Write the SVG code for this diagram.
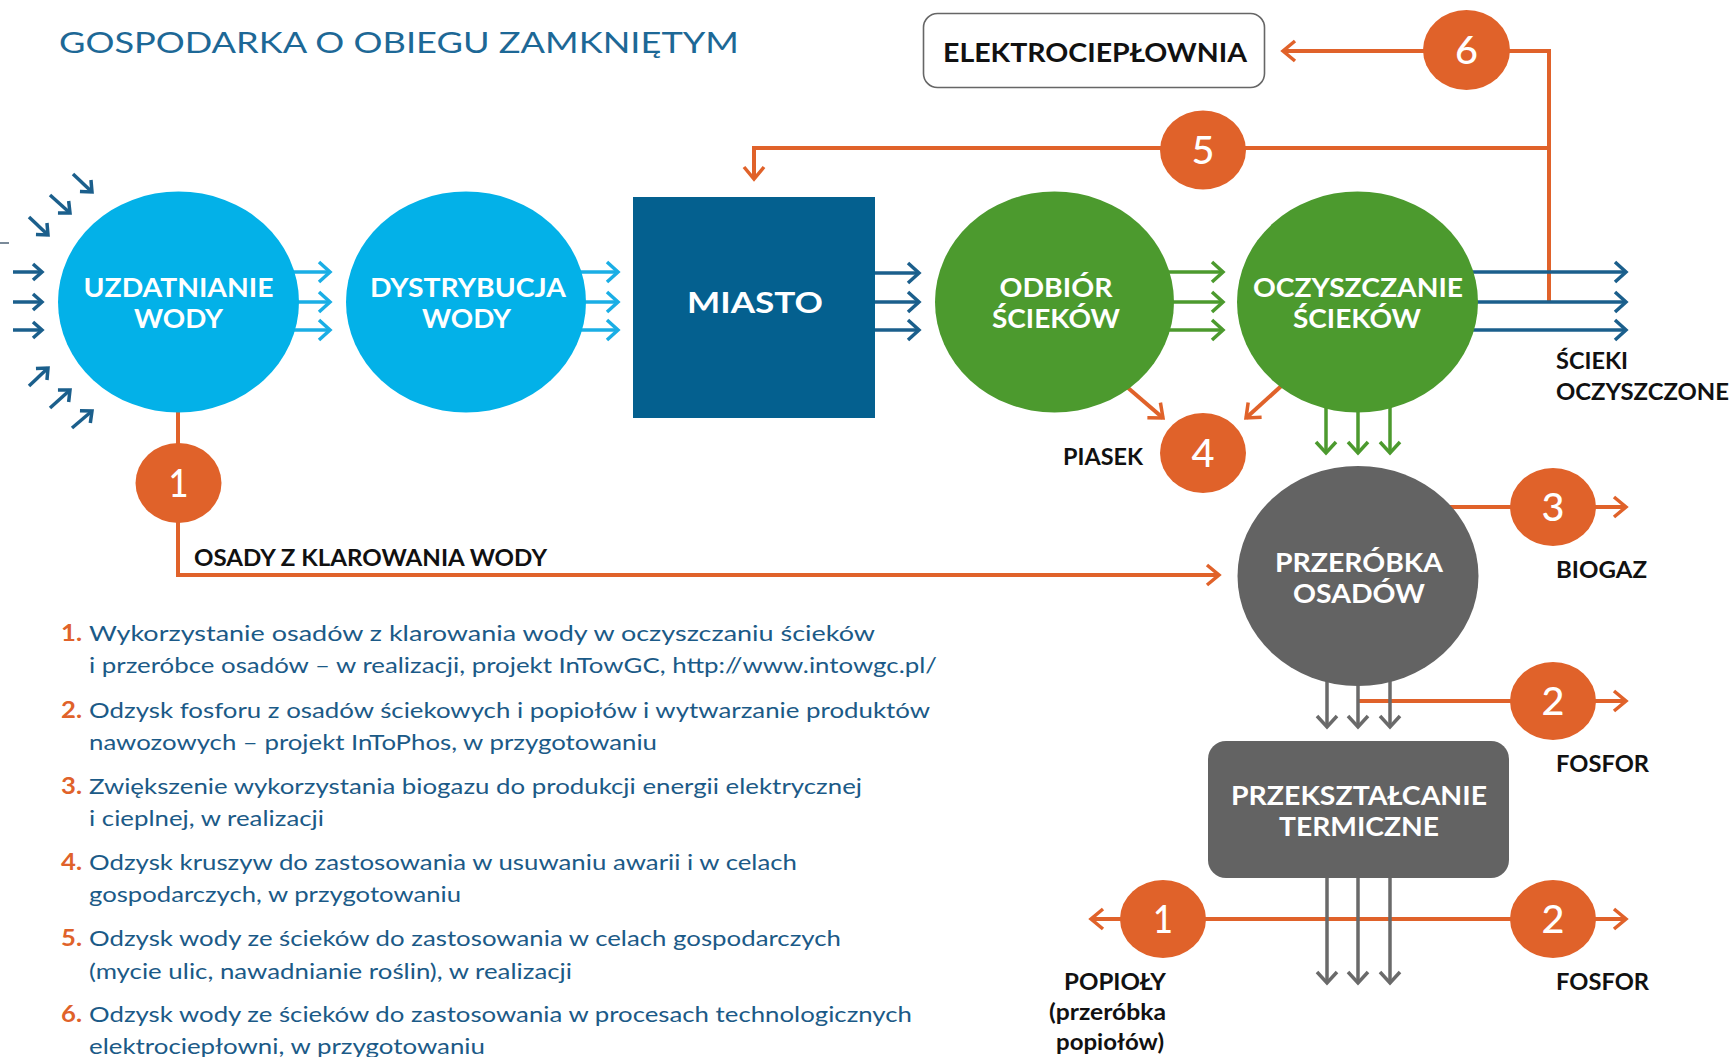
<svg xmlns="http://www.w3.org/2000/svg" width="1732" height="1057" viewBox="0 0 1732 1057">
<style>
.bg{fill:#ffffff}
.title{font-family:Lato,"Liberation Sans",sans-serif;font-size:29px;fill:#1d6896}
.nl{font-family:Lato,"Liberation Sans",sans-serif;font-weight:bold;font-size:27px;fill:#ffffff;text-anchor:middle}
.lbl{font-family:Lato,"Liberation Sans",sans-serif;font-weight:bold;font-size:23px;fill:#111111}
.num{font-family:Lato,"Liberation Sans",sans-serif;font-weight:500;font-size:39px;fill:#ffffff;text-anchor:middle}
.lg{font-family:Lato,"Liberation Sans",sans-serif;font-size:22px;fill:#1b5a87}
.lgn{font-family:Lato,"Liberation Sans",sans-serif;font-weight:bold;font-size:22px;fill:#e0622a}
.lb{fill:#03b1e8}
.gr{fill:#4c9a2e}
.gy{fill:#636363}
.or{fill:#e0622a}
.c-lb{fill:none;stroke:#1aaee5;stroke-width:3.5}
.c-db{fill:none;stroke:#1b5f8c;stroke-width:3.5}
.c-gr{fill:none;stroke:#4c9a2e;stroke-width:3.5}
.c-gy{fill:none;stroke:#6a6a6a;stroke-width:3.5}
.c-or{fill:none;stroke:#e0622a;stroke-width:4}
</style>
<defs>
<marker id="m-lb" markerUnits="userSpaceOnUse" viewBox="-16 -13 20 26" markerWidth="20" markerHeight="26" refX="0" refY="0" orient="auto" overflow="visible"><path d="M-11,-10 L0,0 L-11,10" fill="none" stroke="#1aaee5" stroke-width="3.5"/></marker>
<marker id="m-db" markerUnits="userSpaceOnUse" viewBox="-16 -13 20 26" markerWidth="20" markerHeight="26" refX="0" refY="0" orient="auto" overflow="visible"><path d="M-11,-10 L0,0 L-11,10" fill="none" stroke="#1b5f8c" stroke-width="3.5"/></marker>
<marker id="m-dbs" markerUnits="userSpaceOnUse" viewBox="-16 -13 20 26" markerWidth="20" markerHeight="26" refX="0" refY="0" orient="auto" overflow="visible"><path d="M-9,-8 L0,0 L-9,8" fill="none" stroke="#1b5f8c" stroke-width="3.5"/></marker>
<marker id="m-gr" markerUnits="userSpaceOnUse" viewBox="-16 -13 20 26" markerWidth="20" markerHeight="26" refX="0" refY="0" orient="auto" overflow="visible"><path d="M-11,-10 L0,0 L-11,10" fill="none" stroke="#4c9a2e" stroke-width="3.5"/></marker>
<marker id="m-gy" markerUnits="userSpaceOnUse" viewBox="-16 -13 20 26" markerWidth="20" markerHeight="26" refX="0" refY="0" orient="auto" overflow="visible"><path d="M-11,-10 L0,0 L-11,10" fill="none" stroke="#6a6a6a" stroke-width="3.5"/></marker>
<marker id="m-or" markerUnits="userSpaceOnUse" viewBox="-16 -13 20 26" markerWidth="20" markerHeight="26" refX="0" refY="0" orient="auto" overflow="visible"><path d="M-12,-10 L0,0 L-12,10" fill="none" stroke="#e0622a" stroke-width="3.5"/></marker>
</defs>
<rect class="bg" x="0" y="0" width="1732" height="1057"/>
<text class="title" x="59" y="53" textLength="680" lengthAdjust="spacingAndGlyphs">GOSPODARKA O OBIEGU ZAMKNIĘTYM</text>

<g id="connectors">
  <line x1="0" y1="243" x2="9" y2="243" stroke="#7a8a99" stroke-width="2"/>
  <!-- incoming to UZDATNIANIE -->
  <path class="c-db" marker-end="url(#m-dbs)" d="M13,272 H42"/>
  <path class="c-db" marker-end="url(#m-dbs)" d="M13,302 H42"/>
  <path class="c-db" marker-end="url(#m-dbs)" d="M13,330 H42"/>
  <path class="c-db" marker-end="url(#m-dbs)" d="M29,217 L48,235"/>
  <path class="c-db" marker-end="url(#m-dbs)" d="M50,195 L70,213"/>
  <path class="c-db" marker-end="url(#m-dbs)" d="M73,174 L92,192"/>
  <path class="c-db" marker-end="url(#m-dbs)" d="M29,386 L48,368"/>
  <path class="c-db" marker-end="url(#m-dbs)" d="M50,408 L70,390"/>
  <path class="c-db" marker-end="url(#m-dbs)" d="M72,428 L92,411"/>
  <!-- light blue -->
  <path class="c-lb" marker-end="url(#m-lb)" d="M285,272 H330"/>
  <path class="c-lb" marker-end="url(#m-lb)" d="M290,302 H330"/>
  <path class="c-lb" marker-end="url(#m-lb)" d="M285,330 H330"/>
  <path class="c-lb" marker-end="url(#m-lb)" d="M572,272 H618"/>
  <path class="c-lb" marker-end="url(#m-lb)" d="M578,302 H618"/>
  <path class="c-lb" marker-end="url(#m-lb)" d="M572,330 H618"/>
  <!-- MIASTO out -->
  <path class="c-db" marker-end="url(#m-db)" d="M875,273 H919"/>
  <path class="c-db" marker-end="url(#m-db)" d="M875,302 H919"/>
  <path class="c-db" marker-end="url(#m-db)" d="M875,330 H919"/>
  <!-- ODBIOR out -->
  <path class="c-gr" marker-end="url(#m-gr)" d="M1160,272 H1223"/>
  <path class="c-gr" marker-end="url(#m-gr)" d="M1165,302 H1223"/>
  <path class="c-gr" marker-end="url(#m-gr)" d="M1160,330 H1223"/>
  <!-- orange loops 5 and 6 -->
  <path class="c-or" marker-end="url(#m-or)" d="M1549,302 V51 H1283"/>
  <path class="c-or" marker-end="url(#m-or)" d="M1549,148 H754 V179"/>
  <!-- OCZYSZCZANIE out -->
  <path class="c-db" marker-end="url(#m-db)" d="M1465,272 H1626"/>
  <path class="c-db" marker-end="url(#m-db)" d="M1470,302 H1626"/>
  <path class="c-db" marker-end="url(#m-db)" d="M1465,330 H1626"/>
  <!-- sand -->
  <path class="c-or" marker-end="url(#m-or)" d="M1120,381 L1163,418"/>
  <path class="c-or" marker-end="url(#m-or)" d="M1289,379 L1246,418"/>
  <!-- sludge down -->
  <path class="c-gr" marker-end="url(#m-gr)" d="M1326,395 V453"/>
  <path class="c-gr" marker-end="url(#m-gr)" d="M1358,400 V453"/>
  <path class="c-gr" marker-end="url(#m-gr)" d="M1390,395 V453"/>
  <!-- water clarification sludge -->
  <path class="c-or" marker-end="url(#m-or)" d="M178,400 V575 H1219"/>
  <!-- biogas -->
  <path class="c-or" marker-end="url(#m-or)" d="M1440,507 H1626"/>
  <!-- phosphorus upper -->
  <path class="c-or" marker-end="url(#m-or)" d="M1358,701 H1626"/>
  <path class="c-gy" marker-end="url(#m-gy)" d="M1327,675 V727"/>
  <path class="c-gy" marker-end="url(#m-gy)" d="M1358,680 V727"/>
  <path class="c-gy" marker-end="url(#m-gy)" d="M1390,675 V727"/>
  <!-- lower -->
  <path class="c-or" marker-end="url(#m-or)" d="M1358,919 H1091"/>
  <path class="c-or" marker-end="url(#m-or)" d="M1358,919 H1626"/>
  <path class="c-gy" marker-end="url(#m-gy)" d="M1327,878 V983"/>
  <path class="c-gy" marker-end="url(#m-gy)" d="M1358,878 V983"/>
  <path class="c-gy" marker-end="url(#m-gy)" d="M1390,878 V983"/>
</g>

<g id="n-uzdatnianie">
  <ellipse class="lb" cx="178.5" cy="302" rx="120.5" ry="110.5"/>
  <text class="nl" x="178.5" y="297" textLength="190" lengthAdjust="spacingAndGlyphs">UZDATNIANIE</text>
  <text class="nl" x="178.5" y="328" textLength="89" lengthAdjust="spacingAndGlyphs">WODY</text>
</g>
<g id="n-dystrybucja">
  <ellipse class="lb" cx="466" cy="302" rx="120" ry="110.5"/>
  <text class="nl" x="468" y="297" textLength="196" lengthAdjust="spacingAndGlyphs">DYSTRYBUCJA</text>
  <text class="nl" x="466.5" y="328" textLength="89" lengthAdjust="spacingAndGlyphs">WODY</text>
</g>
<g id="n-miasto">
  <rect x="633" y="197" width="242" height="221" fill="#04608f"/>
  <text class="nl" x="755" y="313" style="font-size:28px" textLength="136" lengthAdjust="spacingAndGlyphs">MIASTO</text>
</g>
<g id="n-odbior">
  <ellipse class="gr" cx="1054.5" cy="302" rx="119.5" ry="110.5"/>
  <text class="nl" x="1056" y="297" textLength="113" lengthAdjust="spacingAndGlyphs">ODBIÓR</text>
  <text class="nl" x="1056" y="328" textLength="128" lengthAdjust="spacingAndGlyphs">ŚCIEKÓW</text>
</g>
<g id="n-oczyszczanie">
  <ellipse class="gr" cx="1357.5" cy="302" rx="120.5" ry="110.5"/>
  <text class="nl" x="1358" y="297" textLength="210" lengthAdjust="spacingAndGlyphs">OCZYSZCZANIE</text>
  <text class="nl" x="1357" y="328" textLength="128" lengthAdjust="spacingAndGlyphs">ŚCIEKÓW</text>
</g>
<g id="n-przerobka">
  <ellipse class="gy" cx="1358" cy="576" rx="120.5" ry="110"/>
  <text class="nl" x="1359" y="572" textLength="168" lengthAdjust="spacingAndGlyphs">PRZERÓBKA</text>
  <text class="nl" x="1359" y="603" textLength="132" lengthAdjust="spacingAndGlyphs">OSADÓW</text>
</g>
<g id="n-przeksztalcanie">
  <rect class="gy" x="1208" y="741" width="301" height="137" rx="18"/>
  <text class="nl" x="1359" y="805" textLength="256" lengthAdjust="spacingAndGlyphs">PRZEKSZTAŁCANIE</text>
  <text class="nl" x="1359" y="836" textLength="160" lengthAdjust="spacingAndGlyphs">TERMICZNE</text>
</g>
<g id="n-elektrocieplownia">
  <rect x="923.5" y="13.5" width="341" height="74" rx="14" fill="#ffffff" stroke="#666666" stroke-width="1.6"/>
  <text class="lbl" x="1095" y="62" style="font-size:26px;text-anchor:middle" textLength="304" lengthAdjust="spacingAndGlyphs">ELEKTROCIEPŁOWNIA</text>
</g>

<g id="n-num6"><ellipse class="or" cx="1466.5" cy="50" rx="43.5" ry="40"/><text class="num" x="1466.5" y="64" textLength="23" lengthAdjust="spacingAndGlyphs">6</text></g>
<g id="n-num5"><ellipse class="or" cx="1203" cy="150" rx="43" ry="39.5"/><text class="num" x="1203" y="164" textLength="23" lengthAdjust="spacingAndGlyphs">5</text></g>
<g id="n-num4"><ellipse class="or" cx="1203" cy="453" rx="43" ry="40"/><text class="num" x="1203" y="467" textLength="23" lengthAdjust="spacingAndGlyphs">4</text></g>
<g id="n-num3"><ellipse class="or" cx="1553" cy="507" rx="43" ry="39"/><text class="num" x="1553" y="521" textLength="23" lengthAdjust="spacingAndGlyphs">3</text></g>
<g id="n-num2a"><ellipse class="or" cx="1553" cy="701" rx="43" ry="39"/><text class="num" x="1553" y="715" textLength="23" lengthAdjust="spacingAndGlyphs">2</text></g>
<g id="n-num1a"><ellipse class="or" cx="178.5" cy="483" rx="43" ry="40"/><text class="num" x="178.5" y="497" textLength="20" lengthAdjust="spacingAndGlyphs">1</text></g>
<g id="n-num1b"><ellipse class="or" cx="1163" cy="919" rx="43" ry="39"/><text class="num" x="1163" y="933" textLength="20" lengthAdjust="spacingAndGlyphs">1</text></g>
<g id="n-num2b"><ellipse class="or" cx="1553" cy="919" rx="43" ry="39"/><text class="num" x="1553" y="933" textLength="23" lengthAdjust="spacingAndGlyphs">2</text></g>

<g id="labels">
  <text class="lbl" x="1556" y="369" textLength="72" lengthAdjust="spacingAndGlyphs">ŚCIEKI</text>
  <text class="lbl" x="1556" y="400" textLength="173" lengthAdjust="spacingAndGlyphs">OCZYSZCZONE</text>
  <text class="lbl" x="1063" y="465" textLength="80" lengthAdjust="spacingAndGlyphs">PIASEK</text>
  <text class="lbl" x="1556" y="578" textLength="91" lengthAdjust="spacingAndGlyphs">BIOGAZ</text>
  <text class="lbl" x="1556" y="772" textLength="93" lengthAdjust="spacingAndGlyphs">FOSFOR</text>
  <text class="lbl" x="1556" y="990" textLength="93" lengthAdjust="spacingAndGlyphs">FOSFOR</text>
  <text class="lbl" x="1064" y="990" textLength="102" lengthAdjust="spacingAndGlyphs">POPIOŁY</text>
  <text class="lbl" x="1049" y="1020" textLength="117" lengthAdjust="spacingAndGlyphs">(przeróbka</text>
  <text class="lbl" x="1056" y="1050" textLength="108" lengthAdjust="spacingAndGlyphs">popiołów)</text>
  <text class="lbl" x="194" y="566" textLength="353" lengthAdjust="spacingAndGlyphs">OSADY Z KLAROWANIA WODY</text>
</g>

<g id="legend">
  <text class="lgn" x="61" y="641" textLength="21" lengthAdjust="spacingAndGlyphs">1.</text>
  <text class="lg" x="89" y="641" textLength="786" lengthAdjust="spacingAndGlyphs">Wykorzystanie osadów z klarowania wody w oczyszczaniu ścieków</text>
  <text class="lg" x="89" y="673" textLength="848" lengthAdjust="spacingAndGlyphs">i przeróbce osadów – w realizacji, projekt InTowGC, http://www.intowgc.pl/</text>
  <text class="lgn" x="61" y="718" textLength="21" lengthAdjust="spacingAndGlyphs">2.</text>
  <text class="lg" x="89" y="718" textLength="841" lengthAdjust="spacingAndGlyphs">Odzysk fosforu z osadów ściekowych i popiołów i wytwarzanie produktów</text>
  <text class="lg" x="89" y="750" textLength="568" lengthAdjust="spacingAndGlyphs">nawozowych – projekt InToPhos, w przygotowaniu</text>
  <text class="lgn" x="61" y="794" textLength="21" lengthAdjust="spacingAndGlyphs">3.</text>
  <text class="lg" x="89" y="794" textLength="773" lengthAdjust="spacingAndGlyphs">Zwiększenie wykorzystania biogazu do produkcji energii elektrycznej</text>
  <text class="lg" x="89" y="826" textLength="235" lengthAdjust="spacingAndGlyphs">i cieplnej, w realizacji</text>
  <text class="lgn" x="61" y="870" textLength="21" lengthAdjust="spacingAndGlyphs">4.</text>
  <text class="lg" x="89" y="870" textLength="708" lengthAdjust="spacingAndGlyphs">Odzysk kruszyw do zastosowania w usuwaniu awarii i w celach</text>
  <text class="lg" x="89" y="902" textLength="372" lengthAdjust="spacingAndGlyphs">gospodarczych, w przygotowaniu</text>
  <text class="lgn" x="61" y="946" textLength="21" lengthAdjust="spacingAndGlyphs">5.</text>
  <text class="lg" x="89" y="946" textLength="752" lengthAdjust="spacingAndGlyphs">Odzysk wody ze ścieków do zastosowania w celach gospodarczych</text>
  <text class="lg" x="89" y="979" textLength="483" lengthAdjust="spacingAndGlyphs">(mycie ulic, nawadnianie roślin), w realizacji</text>
  <text class="lgn" x="61" y="1022" textLength="21" lengthAdjust="spacingAndGlyphs">6.</text>
  <text class="lg" x="89" y="1022" textLength="823" lengthAdjust="spacingAndGlyphs">Odzysk wody ze ścieków do zastosowania w procesach technologicznych</text>
  <text class="lg" x="89" y="1054" textLength="396" lengthAdjust="spacingAndGlyphs">elektrociepłowni, w przygotowaniu</text>
</g>
</svg>
